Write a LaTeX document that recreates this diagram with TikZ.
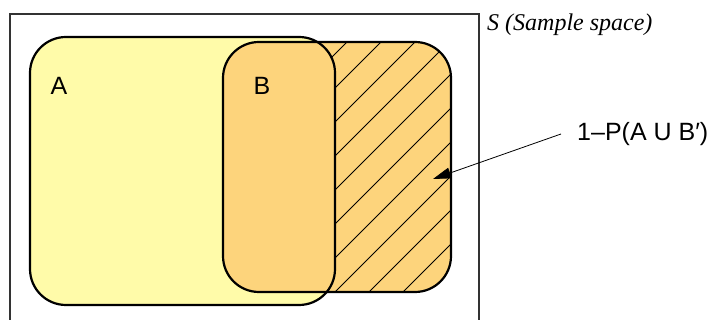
\documentclass[tikz,border=0pt]{standalone}
\usepackage{fontspec}
\setmainfont{Liberation Sans}
\newfontfamily\slabelfont{Liberation Serif}
\usetikzlibrary{arrows.meta}
\definecolor{ayellow}{HTML}{FFFBA9}
\definecolor{borange}{HTML}{FDD47C}
\tikzset{
  setbox/.style={draw, rounded corners=36pt, line width=2.2pt, inner sep=0pt},
  hatchline/.style={line width=0.8pt, black},
  lbl/.style={font=\fontsize{25}{28}\selectfont, inner sep=0pt},
  arr/.style={line width=0.8pt, -{Triangle[length=18pt,width=11pt]}},
  frame/.style={line width=1.6pt, black!80}
}
\begin{document}
\begin{tikzpicture}[x=1pt,y=1pt]
\useasboundingbox (0,0) rectangle (713,320);
% sample space frame (bottom edge outside picture)
\coordinate (fbl) at (10,-3);
\coordinate (ftl) at (10,306);
\coordinate (ftr) at (479,306);
\coordinate (fbr) at (479,-3);
\draw[frame] (fbl) -- (ftl) -- (ftr) -- (fbr);
% set A fill
\fill[ayellow, rounded corners=36pt] (30,15) rectangle (335,283);
% set B fill
\fill[borange, rounded corners=36pt] (223,28) rectangle (451,278);
% hatch in B
\begin{scope}
  \clip[rounded corners=36pt] (223,28) rectangle (451,278);
  \foreach \k in {-12,...,5} {
    \draw[hatchline] (150,{150-69+34*\k}) -- (500,{500-69+34*\k});
  }
\end{scope}
% intersection without hatch
\begin{scope}
  \clip[rounded corners=36pt] (30,15) rectangle (335,283);
  \fill[borange, rounded corners=36pt] (223,28) rectangle (451,278);
\end{scope}
% outlines as named nodes
\node[setbox, minimum width=305pt, minimum height=268pt] (A) at (182.5,149) {};
\node[setbox, minimum width=228pt, minimum height=250pt] (B) at (337,153) {};
% labels
\node[lbl] (la) at (59,234) {A};
\node[lbl] (lb) at (262,234) {B};
\node[lbl, anchor=west] (comp) at (577,186) {1–P(A U B′)};
\node[anchor=west, inner sep=0pt, font=\slabelfont\itshape\fontsize{24}{28}\selectfont] (s) at (487,295) {S (Sample space)};
% arrow
\coordinate (tip) at (433,141);
\draw[arr] ([xshift=-16pt]comp.west) -- (tip);
\end{tikzpicture}
\end{document}
